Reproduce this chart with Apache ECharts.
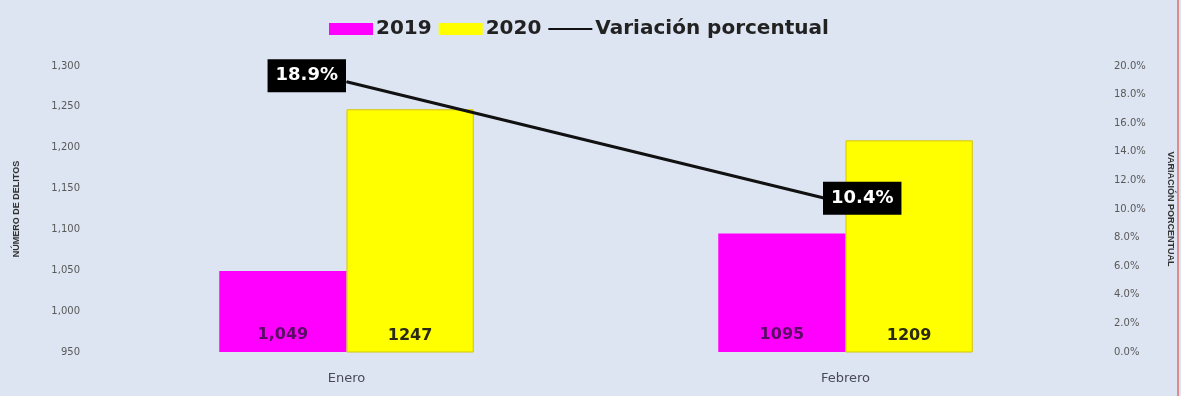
<!DOCTYPE html>
<html>
<head>
<meta charset="utf-8">
<script src="https://cdn.jsdelivr.net/npm/echarts@6/dist/echarts.min.js"></script>
<style>
  html, body { margin: 0; padding: 0; background: #dde5f2; }
  #chart { width: 1181px; height: 396px; }
</style>
</head>
<body>
<div id="chart"></div>
<script>
// Monthly crime counts and their year-over-year change
const categories = ['Enero', 'Febrero'];
const values2019 = [1049, 1095];
const values2020 = [1247, 1209];
const variation = [18.9, 10.4];
const leftTicks = { min: 950, max: 1300, interval: 50 };
const rightTicks = { min: 0, max: 20, interval: 2 };

const chart = echarts.init(document.getElementById('chart'));

const FONT = 'Verdana, DejaVu Sans, sans-serif';
const axisLabelStyle = { color: '#595959', fontSize: 10, fontFamily: FONT };
const barLabel = (color) => ({
  show: true,
  position: 'insideBottom',
  distance: 9,
  fontSize: 16,
  fontWeight: 'bold',
  fontFamily: FONT,
  color: color
});

chart.setOption({
  backgroundColor: '#dde5f2',
  animation: false,
  legend: {
    top: 14,
    left: 324,
    itemGap: 7,
    itemWidth: 44,
    itemHeight: 12,
    textStyle: { fontSize: 20, fontWeight: 'bold', color: '#222', fontFamily: FONT, padding: [0, 0, 0, -2] },
    itemStyle: { borderWidth: 0 },
    data: [
      { name: '2019', icon: 'rect' },
      { name: '2020', icon: 'rect' },
      { name: 'Variación porcentual', icon: 'path://M0,0 L60,0 L60,3 L0,3 Z', itemStyle: { color: '#111' } }
    ]
  },
  grid: { left: 97, right: 86, top: 66, bottom: 44, containLabel: false, outerBoundsMode: 'none' },
  xAxis: {
    type: 'category',
    data: categories,
    axisLine: { show: false },
    axisTick: { show: false },
    axisLabel: { color: '#4a4a55', fontSize: 13, margin: 20, fontFamily: FONT }
  },
  yAxis: [
    {
      type: 'value',
      min: leftTicks.min, max: leftTicks.max, interval: leftTicks.interval,
      name: 'NÚMERO DE DELITOS',
      nameLocation: 'middle',
      nameGap: 76,
      nameTextStyle: { fontSize: 9, fontWeight: 'bold', color: '#333', fontFamily: 'Liberation Sans Narrow, Arial Narrow, sans-serif' },
      axisLabel: Object.assign({}, axisLabelStyle, {
        margin: 17,
        formatter: v => v.toLocaleString('en-US')
      }),
      axisLine: { show: false },
      axisTick: { show: false },
      splitLine: { show: false }
    },
    {
      type: 'value',
      min: rightTicks.min, max: rightTicks.max, interval: rightTicks.interval,
      name: 'VARIACIÓN PORCENTUAL',
      nameLocation: 'middle',
      nameGap: 71,
      nameRotate: -90,
      nameTextStyle: { fontSize: 9, fontWeight: 'bold', color: '#333', fontFamily: 'Liberation Sans Narrow, Arial Narrow, sans-serif' },
      axisLabel: Object.assign({}, axisLabelStyle, {
        fontSize: 10,
        margin: 19,
        formatter: v => v.toFixed(1) + '%'
      }),
      axisLine: { show: false },
      axisTick: { show: false },
      splitLine: { show: false }
    }
  ],
  series: [
    {
      name: '2019',
      type: 'bar',
      data: values2019,
      barWidth: '25.5%',
      barGap: '0%',
      itemStyle: { color: '#ff00ff' },
      label: Object.assign(barLabel('#5b0a66'), {
        formatter: p => p.dataIndex === 0 ? p.value.toLocaleString('en-US') : String(p.value)
      })
    },
    {
      name: '2020',
      type: 'bar',
      data: values2020,
      barWidth: '25.5%',
      itemStyle: { color: '#ffff00', borderColor: '#d6c400', borderWidth: 1 },
      label: barLabel('#2a2a10')
    },
    {
      name: 'Variación porcentual',
      type: 'line',
      yAxisIndex: 1,
      data: variation.map((v, i) => ({
        value: v,
        label: i === 0
          ? { show: true, position: 'left', distance: 0 }
          : { show: true, position: 'right', distance: -23 }
      })),
      symbol: 'circle',
      symbolSize: 1,
      showSymbol: true,
      lineStyle: { color: '#111', width: 3 },
      itemStyle: { color: '#111' },
      label: {
        show: true,
        formatter: p => p.value.toFixed(1) + '%',
        backgroundColor: '#000',
        color: '#fff',
        fontSize: 18,
        fontWeight: 'bold',
        fontFamily: FONT,
        padding: [8, 8, 7, 8]
      },
      // lift both value tags slightly above their points
      labelLayout: p => ({ hideOverlap: false, dy: p.dataIndex === 0 ? -6 : -5 }),
      z: 5
    }
  ],
  graphic: [
    { type: 'rect', shape: { x: 1177, y: 0, width: 2, height: 396 }, style: { fill: '#e08a8a' }, silent: true }
  ]
});
</script>
</body>
</html>
